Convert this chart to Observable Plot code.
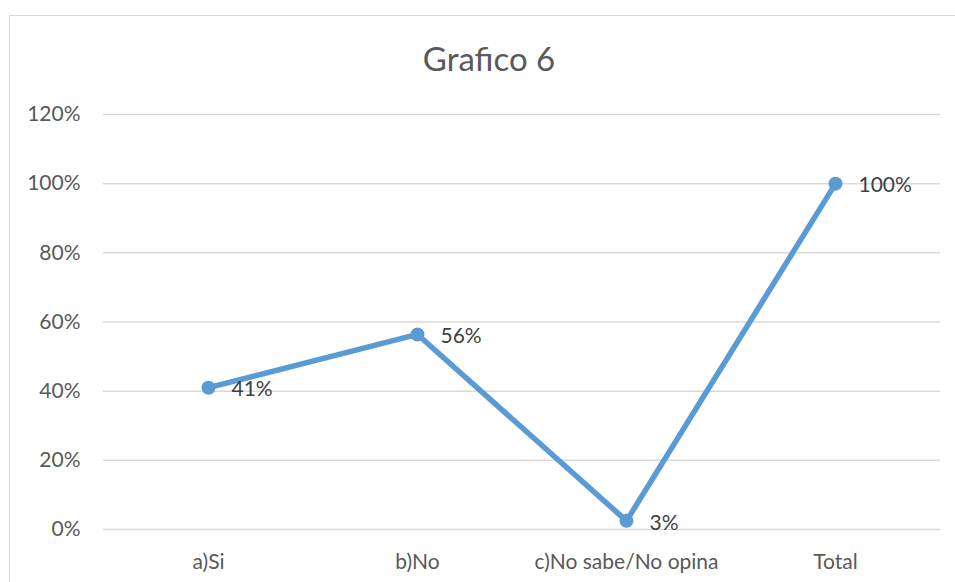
<!DOCTYPE html>
<html>
<head>
<meta charset="utf-8">
<script src="https://cdn.jsdelivr.net/npm/d3@7"></script>
<script src="https://cdn.jsdelivr.net/npm/@observablehq/plot@0.6"></script>
<style>
  html, body { margin: 0; padding: 0; background: #fff; overflow: hidden; width: 955px; height: 582px; }
  #frame { position: absolute; left: 9px; top: 15px; width: 1200px; height: 1000px; border: 1.5px solid #d9d9d9; box-sizing: border-box; }
  #title { position: absolute; left: 0; width: 978px; top: 38px; text-align: center; font-family: Lato, "Open Sans", sans-serif; font-size: 33px; color: #595959; }
  #chart { position: absolute; left: 0; top: 0; }
</style>
</head>
<body>
<div id="frame"></div>
<div id="title">Grafico 6</div>
<div id="chart"></div>
<script>
const categories = ["a)Si", "b)No", "c)No sabe/No opina", "Total"];
const values = [0.41, 0.564, 0.025, 1.0];
const labels = ["41%", "56%", "3%", "100%"];
const yTicks = [0, 0.2, 0.4, 0.6, 0.8, 1.0, 1.2];

const data = categories.map((c, i) => ({cat: c, v: values[i], label: labels[i]}));

const font = 'Lato, "Open Sans", sans-serif';
const chart = Plot.plot({
  width: 955,
  height: 582,
  marginTop: 114,
  marginBottom: 53,
  marginLeft: 103,
  marginRight: 15,
  style: {fontFamily: font, fontSize: "21px", color: "#595959", background: "transparent"},
  x: {type: "point", domain: categories, padding: 0.5, label: null},
  y: {domain: [0, 1.2], label: null},
  marks: [
    Plot.gridY(yTicks, {stroke: "#d9d9d9", strokeOpacity: 1, strokeWidth: 1.5}),
    Plot.axisY(yTicks, {tickSize: 0, tickPadding: 23, tickFormat: d => Math.round(d * 100) + "%", fill: "#595959", fontSize: 21, label: null}),
    Plot.axisX({tickSize: 0, tickPadding: 25, fill: "#595959", fontSize: 21, label: null}),
    Plot.line(data, {x: "cat", y: "v", stroke: "#5b9bd5", strokeWidth: 5.5, strokeLinejoin: "round"}),
    Plot.dot(data, {x: "cat", y: "v", r: 7, fill: "#5b9bd5", stroke: "none"}),
    Plot.text(data, {x: "cat", y: "v", text: "label", dx: 23, dy: 2, textAnchor: "start", fill: "#404040", fontSize: 21})
  ]
});
document.getElementById("chart").appendChild(chart);
</script>
</body>
</html>
